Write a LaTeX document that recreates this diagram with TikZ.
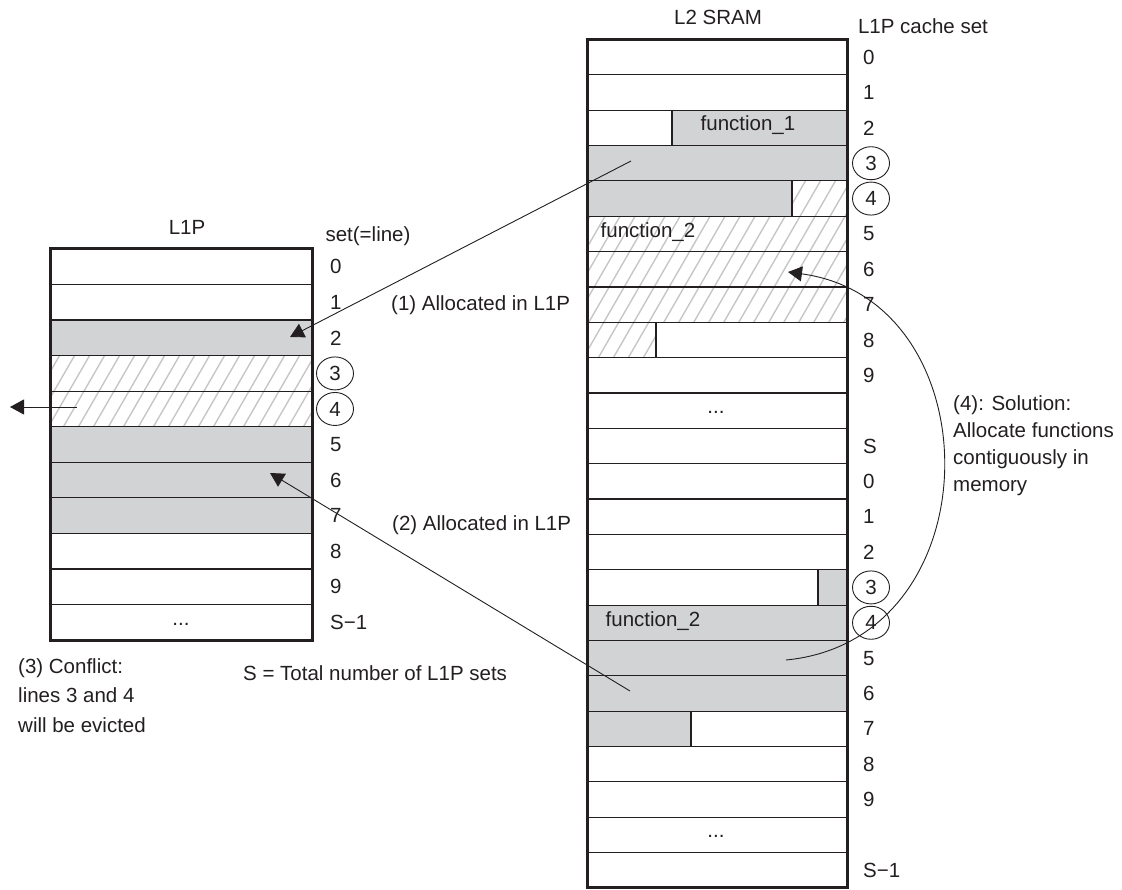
\documentclass[tikz,border=0pt]{standalone}
\usepackage{fontspec}
\setmainfont{Liberation Sans}
\usetikzlibrary{arrows.meta,shapes.geometric}
\definecolor{cellgray}{RGB}{209,211,212}
\definecolor{hatchgray}{RGB}{198,198,198}
\definecolor{ink}{RGB}{35,31,32}
\def\LA{249}\def\LH{35.55}
\def\RA{39.5}\def\RH{35.35}
\newcommand{\hatchbox}[4]{%
  \begin{scope}
    \clip (#1,#2) rectangle (#3,#4);
    \foreach \k in {-36,...,76} \draw[hline] ({\k*15},900) -- ++(520,-900);
  \end{scope}}
\begin{document}
\begin{tikzpicture}[x=1pt,y=-1pt,
  txt/.style={font=\fontsize{20.5}{24}\selectfont, inner sep=0pt, text=ink},
  cellline/.style={draw=ink, line width=1.2pt},
  frame/.style={draw=ink, line width=3pt},
  hline/.style={draw=hatchgray, line width=1.4pt},
  circ/.style={draw=ink, line width=0.9pt, ellipse, minimum width=37pt, minimum height=33pt, inner sep=0pt},
  arr/.style={draw=ink, line width=0.9pt, -{Triangle[length=14pt,width=15pt]}}
]
\useasboundingbox (0,0) rectangle (1122,890);
% ---------------- L1P ----------------
\fill[cellgray] (50,\LA+2*\LH) rectangle (312,\LA+3*\LH);
\fill[cellgray] (50,\LA+5*\LH) rectangle (312,\LA+8*\LH);
\hatchbox{50}{\LA+3*\LH}{312}{\LA+5*\LH}
\foreach \i in {1,...,10} \draw[cellline] (50,\LA+\i*\LH) -- (312,\LA+\i*\LH);
\draw[frame] (50,\LA) rectangle (312,\LA+11*\LH);
\node[txt, anchor=base] (ldots) at (181,\LA+10.5*\LH+3) {...};
\foreach \i/\t in {0/0,1/1,2/2,5/5,6/6,7/7,8/8,9/9,10/S−1}
  \node[txt, anchor=west] (ll\i) at (330,\LA+\i*\LH+0.5*\LH) {\t};
\node[txt, circ] (ll3) at (335,\LA+3.5*\LH) {3};
\node[txt, circ] (ll4) at (335,\LA+4.5*\LH) {4};
\node[txt] (l1ptitle) at (187,227) {L1P};
\node[txt] (settitle) at (368,236) {set(=line)};
% ---------------- L2 SRAM ----------------
\fill[cellgray] (672,\RA+2*\RH) rectangle (847,\RA+3*\RH);
\fill[cellgray] (587,\RA+3*\RH) rectangle (847,\RA+4*\RH);
\fill[cellgray] (587,\RA+4*\RH) rectangle (792,\RA+5*\RH);
\hatchbox{792}{\RA+4*\RH}{847}{\RA+5*\RH}
\hatchbox{587}{\RA+5*\RH}{847}{\RA+8*\RH}
\hatchbox{587}{\RA+8*\RH}{656}{\RA+9*\RH}
\fill[cellgray] (818,\RA+15*\RH) rectangle (847,\RA+16*\RH);
\fill[cellgray] (587,\RA+16*\RH) rectangle (847,\RA+19*\RH);
\fill[cellgray] (587,\RA+19*\RH) rectangle (691,\RA+20*\RH);
\foreach \i in {1,...,23} \draw[cellline] (587,\RA+\i*\RH) -- (847,\RA+\i*\RH);
\draw[cellline] (672,\RA+2*\RH) -- (672,\RA+3*\RH);
\draw[cellline] (792,\RA+4*\RH) -- (792,\RA+5*\RH);
\draw[cellline] (656,\RA+8*\RH) -- (656,\RA+9*\RH);
\draw[cellline] (818,\RA+15*\RH) -- (818,\RA+16*\RH);
\draw[cellline] (691,\RA+19*\RH) -- (691,\RA+20*\RH);
\draw[frame] (587,\RA) rectangle (847,\RA+24*\RH);
\node[txt, anchor=base] (f1) at (748,\RA+2.5*\RH+3) {function\_1};
\node[txt, anchor=base] (f2a) at (648,\RA+5.5*\RH+4) {function\_2};
\node[txt, anchor=base] (f2b) at (653,\RA+16.5*\RH+4) {function\_2};
\node[txt, anchor=base] (rdotsa) at (716,\RA+10.5*\RH+3) {...};
\node[txt, anchor=base] (rdotsb) at (716,\RA+22.5*\RH+3) {...};
\foreach \i/\t in {0/0,1/1,2/2,5/5,6/6,7/7,8/8,9/9,11/S,12/0,13/1,14/2,17/5,18/6,19/7,20/8,21/9,23/S−1}
  \node[txt, anchor=west] (rl\i) at (863,\RA+\i*\RH+0.5*\RH) {\t};
\node[txt, circ] (rl3) at (871,\RA+3.5*\RH) {3};
\node[txt, circ] (rl4) at (871,\RA+4.5*\RH) {4};
\node[txt, circ] (rl15) at (871,\RA+15.5*\RH) {3};
\node[txt, circ] (rl16) at (871,\RA+16.5*\RH) {4};
\node[txt] (l2title) at (718,17) {L2 SRAM};
\node[txt] (cstitle) at (923,26) {L1P cache set};
% ---------------- annotations ----------------
\node[txt, anchor=west] (t1) at (391,305) {(1) Allocated in L1P};
\node[txt, anchor=west] (t2) at (392,525) {(2) Allocated in L1P};
\node[txt, anchor=west] (tS) at (243,673) {S = Total number of L1P sets};
\node[txt, anchor=north west, align=left, font=\fontsize{20.5}{29.5}\selectfont] (t3) at (18,658)
  {(3) Conflict:\\lines 3 and 4\\will be evicted};
\node[txt, anchor=north west, align=left, font=\fontsize{20.5}{27.3}\selectfont] (t4) at (953,395)
  {(4): Solution:\\Allocate functions\\contiguously in\\memory};
% ---------------- arrows ----------------
\coordinate (a1s) at (631,161);
\coordinate (a1e) at (290,337);
\coordinate (a2s) at (630,691);
\coordinate (a2e) at (270,473);
\coordinate (a3s) at (77,407);
\coordinate (a3e) at (10,407);
\coordinate (a4s) at (786,660);
\coordinate (a4e) at (788,272);
\draw[arr] (a1s) -- (a1e);
\draw[arr] (a2s) -- (a2e);
\draw[arr] (a3s) -- (a3e);
\draw[arr] (a4s) .. controls (995,640) and (995,300) .. (a4e);
\end{tikzpicture}
\end{document}
